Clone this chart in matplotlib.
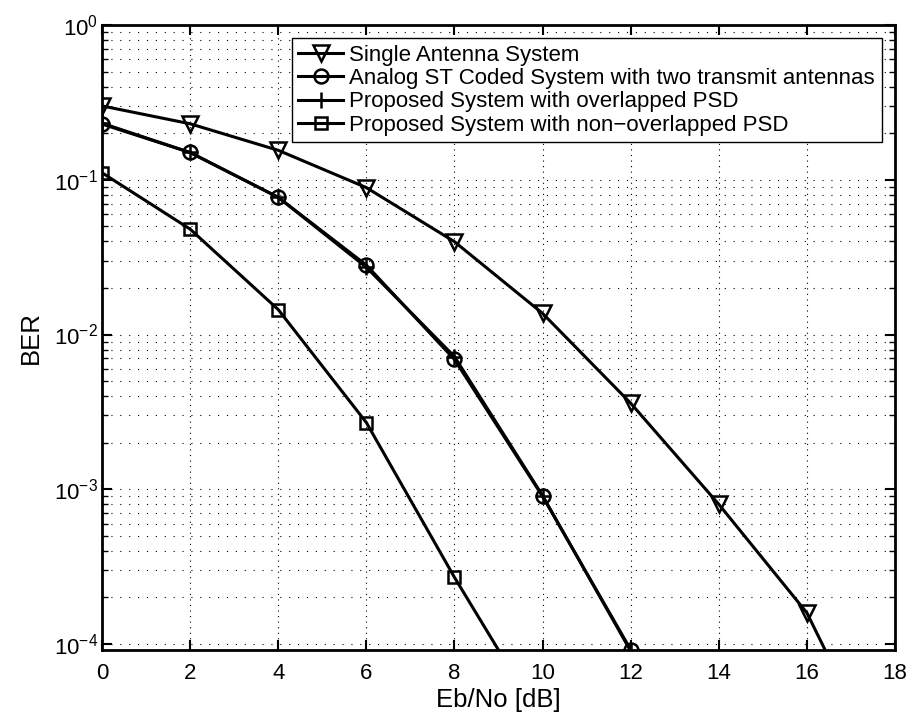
import matplotlib
matplotlib.use("Agg")
import matplotlib.pyplot as plt
from matplotlib.ticker import LogLocator, NullFormatter

plt.rcParams['font.family'] = ['Liberation Sans', 'DejaVu Sans']
plt.rcParams['mathtext.fontset'] = 'custom'
plt.rcParams['mathtext.rm'] = 'Liberation Sans'

# Eb/No values (dB)
snr = [0, 2, 4, 6, 8, 10, 12, 14, 16, 18]

# BER curves
ber_single = [0.30, 0.23, 0.155, 0.089, 0.0398, 0.0137, 0.0036, 8.0e-4, 1.59e-4, 1.1e-5]
ber_stc = [0.229, 0.150, 0.077, 0.0281, 0.0069, 9.0e-4, 9.2e-5]
ber_overlap = [0.232, 0.150, 0.077, 0.0272, 0.0072, 9.1e-4, 9.0e-5]
ber_nonoverlap = [0.111, 0.048, 0.0145, 0.0027, 2.7e-4, 3.1e-5]

labels = ['Single Antenna System',
          'Analog ST Coded System with two transmit antennas',
          'Proposed System with overlapped PSD',
          'Proposed System with non\u2212overlapped PSD']

fig = plt.figure(figsize=(9.12, 7.2), dpi=100)
ax = fig.add_axes([0.1118, 0.0972, 0.8696, 0.8681])

kw = dict(color='black', linewidth=2.2, markersize=10, markerfacecolor='none', markeredgewidth=1.8)
ax.semilogy(snr, ber_single, marker='v', label=labels[0], **dict(kw, markersize=11))
ax.semilogy(snr[:len(ber_stc)], ber_stc, marker='o', label=labels[1], **kw)
ax.semilogy(snr[:len(ber_overlap)], ber_overlap, marker='+', label=labels[2], **dict(kw, markersize=11))
ax.semilogy(snr[:len(ber_nonoverlap)], ber_nonoverlap, marker='s', label=labels[3],
            **dict(kw, markersize=8))

ax.set_xlim(0, 18)
ax.set_ylim(9.15e-5, 1)
ax.set_xticks(range(0, 19, 2))
ax.yaxis.set_major_locator(LogLocator(base=10, numticks=10))
ax.yaxis.set_minor_locator(LogLocator(base=10, subs=range(2, 10), numticks=20))
ax.yaxis.set_minor_formatter(NullFormatter())

ax.grid(True, which='major', axis='x', linestyle=(0, (1, 4)), color='black', linewidth=0.8)
ax.grid(True, which='both', axis='y', linestyle=(0, (1, 7)), color='black', linewidth=0.8)

ax.tick_params(which='both', direction='in', top=True, right=True, labelsize=16)
ax.tick_params(which='major', length=7, width=1.5)
ax.tick_params(which='minor', length=4, width=1)
ax.tick_params(axis='x', pad=9)
ax.tick_params(axis='y', pad=3)
for s in ax.spines.values():
    s.set_linewidth(2)

ax.set_xlabel('Eb/No [dB]', fontsize=18.5, labelpad=3)
ax.set_ylabel('BER', fontsize=18.5, labelpad=8)

leg = ax.legend(loc='upper right', fontsize=16, fancybox=False, edgecolor='black',
                framealpha=1, handlelength=2.0, borderaxespad=0.6, labelspacing=0.1,
                handletextpad=0.3, borderpad=0.3)
leg.get_frame().set_linewidth(1)

fig.savefig('out.png', dpi=100)
